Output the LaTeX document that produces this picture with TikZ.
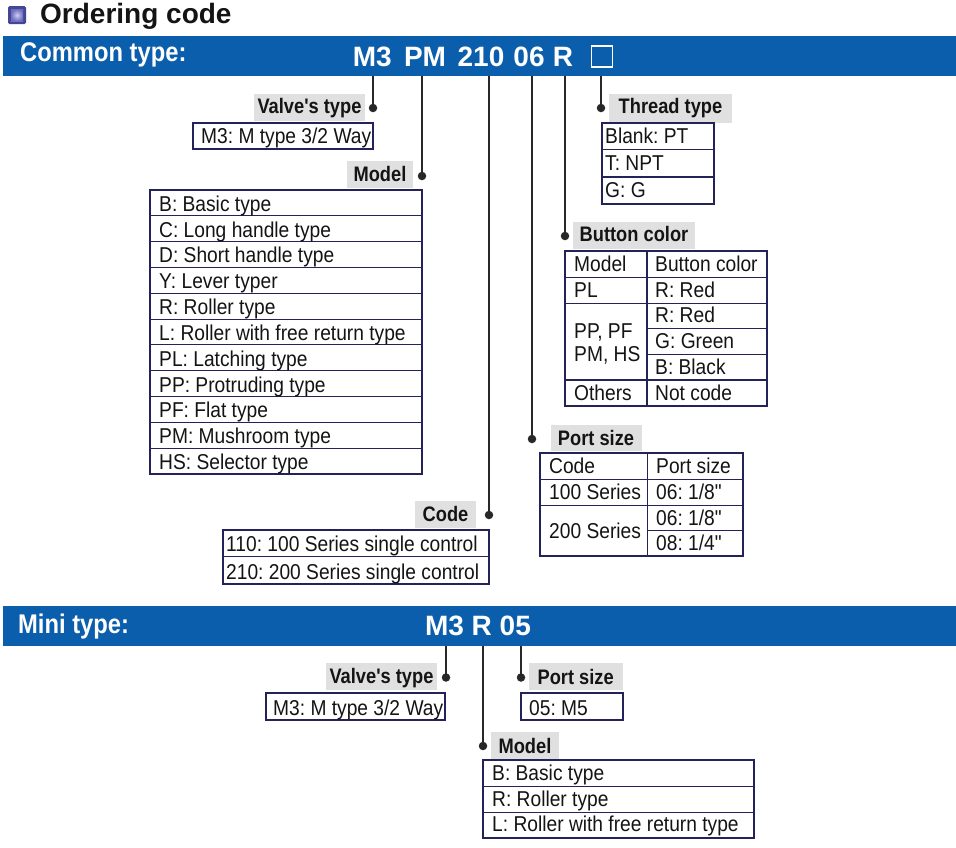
\documentclass[tikz,border=0pt]{standalone}
\usepackage{fontspec}
\setmainfont{Liberation Sans}
\newfontfamily\regn{Liberation Sans}[FakeStretch=0.893]
\newfontfamily\boldn{Liberation Sans}[FakeStretch=0.87]
\newfontfamily\barn{Liberation Sans}[FakeStretch=0.88]
\newfontfamily\codef{Liberation Sans}
\definecolor{barblue}{RGB}{10,94,172}
\definecolor{navy}{RGB}{35,35,90}
\definecolor{lblgray}{RGB}{224,224,224}
\definecolor{ink}{RGB}{20,20,20}
\definecolor{wire}{RGB}{40,40,40}
\definecolor{iconA}{RGB}{70,70,150}
\definecolor{iconB}{RGB}{205,205,240}
\definecolor{iconC}{RGB}{110,110,190}
\frenchspacing
\begin{document}
\begin{tikzpicture}[x=1pt,y=-1pt,
 celltxt/.style={anchor=base west,inner sep=0pt,text=ink,font=\frenchspacing\regn\fontsize{21.5}{24}\selectfont},
 lbltxt/.style={anchor=base,inner sep=0pt,text=ink,font=\boldn\bfseries\fontsize{21}{24}\selectfont},
 tblframe/.style={draw=navy,line width=2pt},
 tblrule/.style={draw=navy,line width=1.1pt},
 tagbox/.style={fill=lblgray},
 wireline/.style={draw=wire,line width=1.5pt},
 pin/.style={circle,fill=wire,inner sep=0pt,minimum size=8.5pt},
 codetok/.style={anchor=base,inner sep=0pt,text=white,font=\codef\bfseries\fontsize{28}{30}\selectfont},
 bartitle/.style={anchor=base west,inner sep=0pt,text=white,font=\barn\bfseries\fontsize{27}{30}\selectfont}
]
\useasboundingbox (0,0) rectangle (956,847);
\fill[white] (0,0) rectangle (956,847);

% ---------- title ----------
\fill[iconA,rounded corners=1.5pt] (8,6) rectangle (26,24);
\shade[inner color=iconB,outer color=iconC] (11,9) rectangle (23,21);
\node[anchor=base west,inner sep=0pt,text=ink,font=\bfseries\fontsize{28}{30}\selectfont] (title) at (40,23) {Ordering code};

% ---------- common type bar ----------
\fill[barblue] (3,36) rectangle (956,76);
\node[bartitle] (common) at (20,61.7) {Common type:};
\node[codetok] (tM3) at (372.3,66) {M3};
\node[codetok] (tPM) at (425,66) {PM};
\node[codetok] (t210) at (481,66) {210};
\node[codetok] (t06) at (529,66) {06};
\node[codetok] (tR) at (563,66) {R};
\node[draw=white,line width=1.6pt,minimum size=21pt,inner sep=0pt] (tbox) at (602,56.5) {};

\coordinate (s1) at (373,76);
\coordinate (s2) at (422,76);
\coordinate (s3) at (489,76);
\coordinate (s4) at (532,76);
\coordinate (s5) at (565,76);
\coordinate (s6) at (601,76);
\node[pin] (d1) at (373,108) {};
\node[pin] (d2) at (422,176) {};
\node[pin] (d3) at (489,515) {};
\node[pin] (d4) at (532,439) {};
\node[pin] (d5) at (565,236) {};
\node[pin] (d6) at (601,108) {};
\draw[wireline] (s1) -- (d1.center);
\draw[wireline] (s2) -- (d2.center);
\draw[wireline] (s3) -- (d3.center);
\draw[wireline] (s4) -- (d4.center);
\draw[wireline] (s5) -- (d5.center);
\draw[wireline] (s6) -- (d6.center);

% ---------- Valve's type ----------
\fill[tagbox] (254,94) rectangle (365,121);
\node[lbltxt] (lvt) at (309.5,113.3) {Valve's type};
\draw[tblframe] (193,122.5) rectangle (373,149);
\node[celltxt] (vt1) at (201,143.5) {M3: M type 3/2 Way};

% ---------- Model ----------
\fill[tagbox] (347,161) rectangle (413,188);
\node[lbltxt] (lmd) at (380,181) {Model};
\foreach \k in {1,...,10} \draw[tblrule] (150,190+\k*25.818) -- (422,190+\k*25.818);
\draw[tblframe] (150,190) rectangle (422,474);
\foreach \t [count=\i] in {B: Basic type,C: Long handle type,D: Short handle type,Y: Lever typer,R: Roller type,L: Roller with free return type,PL: Latching type,PP: Protruding type,PF: Flat type,PM: Mushroom type,HS: Selector type}
  \node[celltxt] (m\i) at (159,190+\i*25.818-4.5) {\t};

% ---------- Code ----------
\fill[tagbox] (415,501) rectangle (476,528);
\node[lbltxt] (lcd) at (445.5,521.5) {Code};
\draw[tblrule] (223,556.5) -- (489,556.5);
\draw[tblframe] (223,529.5) rectangle (489,583.5);
\node[celltxt] (cd1) at (226,551.7) {110: 100 Series single control};
\node[celltxt] (cd2) at (226,579.3) {210: 200 Series single control};

% ---------- Thread type ----------
\fill[tagbox] (609,94) rectangle (732,123);
\node[lbltxt] (lth) at (670.5,113.3) {Thread type};
\draw[tblrule] (602,149.5) -- (714,149.5);
\draw[tblrule] (602,177) -- (714,177);
\draw[tblframe] (602,122.5) rectangle (714,204);
\node[celltxt] (th1) at (605,143.3) {Blank: PT};
\node[celltxt] (th2) at (605,170.7) {T: NPT};
\node[celltxt] (th3) at (605,197.3) {G: G};

% ---------- Button color ----------
\fill[tagbox] (573,222) rectangle (695,249);
\node[lbltxt] (lbc) at (634,241.7) {Button color};
\draw[tblrule] (647,251) -- (647,406);
\draw[tblrule] (564.5,277.3) -- (767,277.3);
\draw[tblrule] (564.5,303.3) -- (767,303.3);
\draw[tblrule] (647,328.7) -- (767,328.7);
\draw[tblrule] (647,354.3) -- (767,354.3);
\draw[tblrule] (564.5,380) -- (767,380);
\draw[tblframe] (564.5,251) rectangle (767,406);
\node[celltxt] (bc1) at (574,271.7) {Model};
\node[celltxt] (bc2) at (655,271.7) {Button color};
\node[celltxt] (bc3) at (574,297.3) {PL};
\node[celltxt] (bc4) at (655,297.3) {R: Red};
\node[celltxt] (bc5) at (574,338) {PP, PF};
\node[celltxt] (bc6) at (574,361.7) {PM, HS};
\node[celltxt] (bc7) at (655,322.7) {R: Red};
\node[celltxt] (bc8) at (655,348.3) {G: Green};
\node[celltxt] (bc9) at (655,374) {B: Black};
\node[celltxt] (bc10) at (574,400) {Others};
\node[celltxt] (bc11) at (655,400) {Not code};

% ---------- Port size ----------
\fill[tagbox] (551,425) rectangle (641.5,451);
\node[lbltxt] (lps) at (596,445) {Port size};
\draw[tblrule] (647.5,452.5) -- (647.5,556);
\draw[tblrule] (540,479.3) -- (743,479.3);
\draw[tblrule] (540,505.3) -- (743,505.3);
\draw[tblrule] (647.5,530.5) -- (743,530.5);
\draw[tblframe] (540,452.5) rectangle (743,556);
\node[celltxt] (ps1) at (549,473.3) {Code};
\node[celltxt] (ps2) at (656,473.3) {Port size};
\node[celltxt] (ps3) at (549,499.3) {100 Series};
\node[celltxt] (ps4) at (656,499.3) {06: 1/8"};
\node[celltxt] (ps5) at (549,538.3) {200 Series};
\node[celltxt] (ps6) at (656,525) {06: 1/8"};
\node[celltxt] (ps7) at (656,550) {08: 1/4"};

% ---------- mini type bar ----------
\fill[barblue] (3,606) rectangle (956,646);
\node[bartitle] (mini) at (18,633) {Mini type:};
\node[codetok] (nM3) at (444.5,635) {M3};
\node[codetok] (nR) at (481.8,635) {R};
\node[codetok] (n05) at (515.3,635) {05};

\coordinate (u1) at (446,646);
\coordinate (u2) at (483,646);
\coordinate (u3) at (521,646);
\node[pin] (e1) at (446,677.5) {};
\node[pin] (e2) at (483,746) {};
\node[pin] (e3) at (521,677.5) {};
\draw[wireline] (u1) -- (e1.center);
\draw[wireline] (u2) -- (e2.center);
\draw[wireline] (u3) -- (e3.center);

% mini valve's type
\fill[tagbox] (326,663) rectangle (437,689.5);
\node[lbltxt] (mlvt) at (381.5,683.5) {Valve's type};
\draw[tblframe] (266,692.5) rectangle (445,720);
\node[celltxt] (mvt1) at (273,715) {M3: M type 3/2 Way};

% mini port size
\fill[tagbox] (529,663) rectangle (622.5,690);
\node[lbltxt] (mlps) at (575.7,684) {Port size};
\draw[tblframe] (521,692.5) rectangle (622.5,720);
\node[celltxt] (mps1) at (529,715) {05: M5};

% mini model
\fill[tagbox] (491,732) rectangle (559,759);
\node[lbltxt] (mlmd) at (525,753.3) {Model};
\draw[tblrule] (483,786.7) -- (754,786.7);
\draw[tblrule] (483,812.3) -- (754,812.3);
\draw[tblframe] (483,760) rectangle (754,838);
\node[celltxt] (mm1) at (492,780.7) {B: Basic type};
\node[celltxt] (mm2) at (492,806) {R: Roller type};
\node[celltxt] (mm3) at (492,831) {L: Roller with free return type};
\end{tikzpicture}
\end{document}
